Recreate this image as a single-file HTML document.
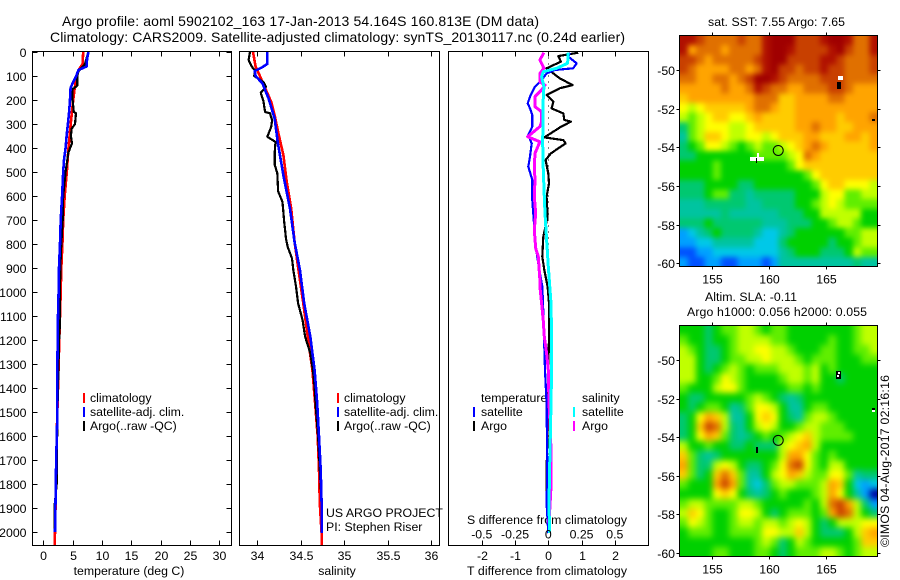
<!DOCTYPE html>
<html lang="en">
<head>
<meta charset="utf-8">
<title>Argo profile 5902102_163</title>
<style>
html,body{margin:0;padding:0;background:#fff;width:900px;height:580px;overflow:hidden}
svg{display:block}
text{font-family:"Liberation Sans","DejaVu Sans",sans-serif;font-size:12.3px;fill:#000}
.title{font-size:14px}
</style>
</head>
<body>
<svg id="figure" xmlns="http://www.w3.org/2000/svg" width="900" height="580" viewBox="0 0 900 580">
<defs>
<filter id="blur-sst" filterUnits="userSpaceOnUse" x="650" y="5" width="250" height="290" color-interpolation-filters="sRGB"><feGaussianBlur stdDeviation="2.6"/></filter>
<filter id="blur-sla" filterUnits="userSpaceOnUse" x="650" y="295" width="250" height="285" color-interpolation-filters="sRGB"><feGaussianBlur stdDeviation="3.2"/></filter>
<clipPath id="clip-sst"><rect x="679.5" y="35.5" width="198" height="231"/></clipPath>
<clipPath id="clip-sla"><rect x="679.5" y="325.5" width="198" height="231"/></clipPath>
</defs>
<text class="title" x="62" y="26" textLength="477">Argo profile: aoml 5902102_163 17-Jan-2013 54.164S 160.813E (DM data)</text>
<text class="title" x="50" y="42" textLength="575">Climatology: CARS2009. Satellite-adjusted climatology: synTS_20130117.nc (0.24d earlier)</text>
<text x="708" y="26" textLength="137">sat. SST: 7.55 Argo: 7.65</text>
<text x="705" y="301" textLength="92">Altim. SLA: -0.11</text>
<text x="687" y="316" textLength="180">Argo h1000: 0.056 h2000: 0.055</text>
<text transform="translate(889,547) rotate(-90)" textLength="172">©IMOS 04-Aug-2017 02:16:16</text>
<text x="129" y="575" text-anchor="middle">temperature (deg C)</text>
<text x="337" y="575" text-anchor="middle">salinity</text>
<text x="547" y="575" text-anchor="middle" textLength="160">T difference from climatology</text>
<text x="547" y="524" text-anchor="middle" textLength="160">S difference from climatology</text>
<text x="326" y="517">US ARGO PROJECT</text>
<text x="326" y="531">PI: Stephen Riser</text>
<g>
<rect x="83" y="393" width="2" height="10" fill="#f00"/>
<text x="90" y="402">climatology</text>
<rect x="83" y="407" width="2" height="10" fill="#00f"/>
<text x="90" y="416">satellite-adj. clim.</text>
<rect x="83" y="421" width="2" height="10" fill="#000"/>
<text x="90" y="430">Argo(..raw -QC)</text>
</g>
<g>
<rect x="337" y="393" width="2" height="10" fill="#f00"/>
<text x="344" y="402">climatology</text>
<rect x="337" y="407" width="2" height="10" fill="#00f"/>
<text x="344" y="416">satellite-adj. clim.</text>
<rect x="337" y="421" width="2" height="10" fill="#000"/>
<text x="344" y="430">Argo(..raw -QC)</text>
</g>
<g>
<text x="481" y="402">temperature</text>
<rect x="473" y="407" width="2" height="10" fill="#00f"/>
<text x="481" y="416">satellite</text>
<rect x="473" y="421" width="2" height="10" fill="#000"/>
<text x="481" y="430">Argo</text>
<text x="582" y="402">salinity</text>
<rect x="573" y="407" width="2" height="10" fill="#0ff"/>
<text x="582" y="416">satellite</text>
<rect x="573" y="421" width="2" height="10" fill="#f0f"/>
<text x="582" y="430">Argo</text>
</g>
</svg>
<script>
// ---- profile data ----
const depthTicks = [0,100,200,300,400,500,600,700,800,900,1000,1100,1200,1300,1400,1500,1600,1700,1800,1900,2000];
const tempTicks = [0,5,10,15,20,25,30];
const salTicks = [34,34.5,35,35.5,36];
const salTickLabels = ['34','34.5','35','35.5','36'];
const tDiffTicks = [-2,-1,0,1,2];
const sDiffTicks = [-0.5,-0.25,0,0.25,0.5];
const sDiffTickLabels = ['-0.5','-0.25','0','0.25','0.5'];

const tempClimDepth = [0,50,75,100,150,200,300,400,500,600,700,800,900,1000,1200,1400,1600,1800,2000,2054];
const tempClim = [6.8,6.7,6.0,5.7,5.35,5.1,4.67,4.3,4.0,3.65,3.4,3.25,3.07,2.96,2.73,2.5,2.28,2.17,2.0,1.95];
const tempArgoDepth = [0,50,80,100,140,155,200,250,255,300,320,350,380,420,500,600,700,800,900,1000,1150,1200,1500,1800,1900,2000];
const tempArgo = [7.67,7.1,6.0,5.8,5.8,5.0,5.0,5.2,5.57,5.4,4.83,4.7,4.9,4.26,3.8,3.4,3.3,3.07,2.9,2.85,2.8,2.7,2.4,2.28,1.9,1.95];
const tempSatDepth = [0,30,60,75,100,130,150,200,250,300,350,400,450,500,600,700,800,900,1000,1100,1300,1500,1700,2000];
const tempSat = [7.7,7.45,7.4,6.0,5.6,5.0,4.66,4.55,4.4,4.2,3.97,3.8,3.53,3.4,3.2,2.96,2.85,2.67,2.6,2.5,2.4,2.4,2.2,2.0];

const salClimDepth = [0,61,100,167,208,264,333,430,542,653,792,950,1047,1186,1325,1463,1602,1741,1880,2005,2054];
const salClim = [33.95,33.98,34.03,34.11,34.16,34.2,34.24,34.3,34.34,34.39,34.43,34.49,34.53,34.58,34.635,34.665,34.695,34.71,34.72,34.74,34.74];
const salArgoDepth = [0,33,61,75,100,125,145,170,205,250,255,285,312,353,375,420,470,505,580,625,708,778,812,860,908,977,1047,1116,1186,1255,1325,1394,1463,1602,1741,1880,1936];
const salArgo = [33.916,33.9,33.935,33.97,33.965,34.07,34.1,34.04,34.07,34.09,34.146,34.17,34.16,34.115,34.21,34.2,34.2,34.23,34.24,34.29,34.31,34.33,34.35,34.4,34.415,34.446,34.47,34.52,34.55,34.61,34.64,34.66,34.67,34.7,34.72,34.74,34.74];
const salSatDepth = [0,50,65,79,100,131,194,278,375,514,653,792,908,1047,1186,1325,1463,1602,1741,1880,2005];
const salSat = [34.115,34.115,34.05,33.97,33.98,34.06,34.13,34.2,34.235,34.3,34.376,34.43,34.49,34.54,34.61,34.66,34.69,34.71,34.73,34.74,34.74];

const tDiffArgoDepth = [3,17,40,68,89,110,138,151,179,207,235,256,283,290,314,332,356,367,381,422,450,506,547,603,686,770,853,908,977,1047,1186,1325,1464,1741,1880,2005];
const tDiffArgo = [0.9,0.3,0.38,-0.05,0.15,0.35,0.73,0.35,-0.05,0.15,0.1,0.45,0.48,0.68,0.35,0.15,-0.12,0.45,0.52,0.08,-0.08,0,0.02,-0.05,-0.02,-0.15,-0.18,-0.12,-0.02,0.02,0.02,0,0,-0.05,-0.05,0];
const tDiffSatDepth = [3,19,47,68,75,89,117,144,186,214,235,263,311,346,381,436,478,533,617,714,811,908,977,1047,1186,1325,1464,1741,1880,2005];
const tDiffSat = [0.65,0.6,0.85,0.75,0.2,-0.05,-0.2,-0.4,-0.55,-0.62,-0.55,-0.48,-0.48,-0.6,-0.5,-0.55,-0.6,-0.48,-0.48,-0.43,-0.38,-0.27,-0.18,-0.16,-0.13,-0.1,-0.05,-0.03,-0.05,0];
const sDiffArgoDepth = [3,33,68,89,124,138,158,186,228,249,290,311,353,374,422,478,533,603,672,742,818,853,950,977,1047,1116,1186,1255,1325,1464,1547,1658,1811,1964];
const sDiffArgo = [-0.033,-0.063,-0.033,-0.063,-0.063,-0.025,-0.05,-0.1,-0.1,-0.05,-0.05,-0.063,-0.155,-0.063,-0.1,-0.105,-0.1,-0.105,-0.095,-0.105,-0.095,-0.075,-0.063,-0.063,-0.05,-0.038,-0.03,-0.013,0,0.005,0.013,0.02,0.02,0.005];
const sDiffSatDepth = [3,47,68,82,103,144,200,297,367,478,561,672,783,894,1047,1186,1325,1464,1603,1741,1880,2005];
const sDiffSat = [0.15,0.145,0.063,-0.038,-0.05,-0.033,-0.038,-0.038,-0.043,-0.038,-0.033,-0.025,-0.013,0,0.02,0.025,0.025,0.02,0.015,0.01,0.005,0.01];

// ---- map data (colour level per cell, north to south) ----
const lonTicks = [155,160,165];
const latTicks = [50,52,54,56,58,60];
const sstLevels = [
[14,14,13,12,12,12,12,13,12,12,14,15,15,15,13,13,13,14,15,15,14,12,12,14],
[14,11,12,12,12,11,12,12,12,12,14,15,15,14,13,13,13,13,14,15,13,12,12,14],
[13,13,12,11,12,12,12,12,12,13,14,15,15,13,13,13,13,14,14,13,12,12,12,13],
[13,12,11,11,11,11,12,12,11,12,14,15,13,13,12,13,13,14,13,13,12,12,12,13],
[12,12,11,11,12,12,11,12,13,15,15,14,13,12,12,12,12,13,13,13,12,12,12,12],
[11,11,11,11,11,12,11,11,12,14,13,12,12,11,11,12,12,12,13,13,12,11,11,11],
[10,11,11,11,11,11,11,11,11,12,12,12,10,10,11,11,11,11,12,12,11,11,11,11],
[9,8,9,10,10,10,10,10,11,12,12,11,10,10,11,11,11,11,11,11,11,11,11,11],
[8,7,8,9,10,10,9,9,10,11,10,10,10,10,11,11,11,11,11,10,11,11,11,12],
[5,7,8,9,9,9,8,8,9,10,10,10,10,10,11,11,12,11,11,10,10,11,11,11],
[4,7,8,10,10,9,8,8,9,9,8,9,10,10,10,11,11,10,10,10,11,11,10,11],
[5,6,7,9,9,8,7,6,7,8,7,7,8,9,10,11,12,11,10,10,10,10,10,11],
[5,5,6,6,6,6,6,6,6,7,7,7,7,8,9,12,11,10,10,10,10,10,10,10],
[6,6,6,6,7,6,6,6,6,6,6,6,6,7,9,10,10,10,10,10,10,10,10,10],
[6,6,6,6,7,6,6,6,6,6,6,6,6,6,6,7,9,10,10,10,10,10,10,10],
[5,5,5,6,6,6,6,5,5,6,6,6,6,6,6,6,7,9,10,10,9,9,9,8],
[5,5,5,6,7,7,5,5,4,5,5,5,5,5,6,6,6,8,9,9,7,7,8,8],
[4,4,4,5,5,5,5,5,4,4,5,5,5,5,6,6,7,8,9,8,7,7,7,7],
[4,4,4,4,4,5,4,4,4,4,4,4,5,5,5,6,6,8,8,8,8,8,6,6],
[5,5,5,6,5,5,5,5,5,5,4,4,4,5,5,5,6,6,7,8,8,7,6,6],
[2,3,4,5,6,5,5,5,5,4,3,3,4,5,6,6,6,6,6,6,7,7,8,8],
[2,2,3,3,4,4,4,4,4,3,3,3,5,6,6,6,6,6,5,6,6,7,8,8],
[1,1,2,2,3,3,3,3,3,3,3,3,4,5,6,6,6,5,5,5,6,8,7,7],
[2,1,1,2,2,1,1,2,2,2,1,2,4,4,4,4,4,4,4,4,4,5,4,4]
];
const slaLevels = [
[6,6,6,5,6,7,7,8,8,7,6,7,7,6,6,6,6,6,6,6,6,7,8,8],
[7,6,6,5,6,6,7,8,8,8,8,7,7,6,6,6,6,6,7,6,6,7,8,8],
[8,7,6,5,5,6,7,8,8,9,9,8,8,7,6,6,6,7,7,6,6,7,7,8],
[8,8,6,5,5,6,7,7,8,8,9,8,8,8,7,6,7,7,7,6,6,6,7,7],
[8,8,6,5,6,7,8,7,6,7,7,7,8,8,8,7,8,6,7,6,6,6,6,6],
[8,8,6,6,7,9,8,7,6,6,6,6,7,8,8,7,8,6,6,5,6,6,6,6],
[7,6,6,6,8,9,9,7,6,6,6,6,6,7,7,6,7,6,6,6,6,6,6,6],
[6,5,5,6,6,6,6,6,7,8,7,6,5,4,5,6,6,6,6,6,6,6,6,6],
[6,5,6,7,7,6,4,5,7,9,9,8,6,4,4,6,7,7,6,6,6,6,6,6],
[5,6,9,11,10,8,4,4,6,9,10,9,6,5,4,7,8,8,7,6,6,6,6,6],
[5,6,10,13,12,8,5,4,6,8,9,8,6,6,7,8,8,7,7,7,6,6,6,6],
[5,6,9,11,10,7,5,4,5,6,7,6,7,8,9,10,8,7,7,7,7,6,6,6],
[8,6,6,7,6,6,5,5,6,5,5,5,8,9,10,11,8,6,6,6,6,6,6,6],
[10,7,5,4,5,6,6,6,6,6,6,6,8,11,11,9,7,6,7,6,6,6,6,6],
[11,7,5,5,8,9,8,6,5,5,6,7,9,12,13,9,7,6,8,8,6,6,6,6],
[10,7,5,6,10,12,10,7,4,4,6,8,9,11,10,8,7,7,9,9,7,4,5,5],
[7,6,6,6,11,13,11,7,4,3,5,7,8,8,7,7,7,8,11,10,6,3,2,3],
[6,6,6,6,9,10,9,6,5,4,5,6,7,6,6,6,7,8,11,9,6,4,2,0],
[7,8,8,7,7,7,7,8,8,7,6,6,6,6,6,7,6,8,12,13,11,8,5,2],
[8,10,9,7,6,6,7,9,9,8,6,5,6,7,7,7,6,7,11,13,12,8,6,5],
[7,9,8,7,6,6,7,8,8,7,8,8,7,8,9,8,6,5,6,8,8,8,9,9],
[6,7,7,7,6,6,7,7,7,7,9,9,8,8,10,8,6,5,5,5,6,8,10,11],
[6,6,6,6,6,6,6,6,6,7,8,7,5,6,8,7,6,6,6,6,6,7,10,10],
[6,6,6,6,7,7,6,6,6,7,7,6,5,6,7,7,7,8,8,7,6,7,8,8]
];
const floatLon = [160.813];
const floatLat = [54.164];

const palette = ['#0000a0','#0050ff','#00a0ff','#00c8e8','#00c4a0','#00c870','#00d000','#60ee00','#c0ff00','#ffff00','#ffcc00','#ffa400','#e07000','#c84000','#b01000','#a00000'];
const NS = 'http://www.w3.org/2000/svg';
const fig = document.getElementById('figure');

function mk(tag, parent) {
  const el = document.createElementNS(NS, tag);
  (parent || fig).appendChild(el);
  return el;
}
function setAll(el, props) {
  for (const k in props) el.setAttribute(k, props[k]);
}
function linear(d0, p0, d1, p1) {
  return v => p0 + (v - d0) * (p1 - p0) / (d1 - d0);
}
const yDepth = linear(0, 52, 2000, 532);
const xTemp = linear(0, 43.3, 30, 219.3);
const xSal = linear(34, 257.3, 36, 431);
const xTD = linear(0, 548.3, 2, 614.8);
const xSD = linear(0, 548.3, 0.5, 614.8);
const lonX = linear(155, 712.3, 165, 825.7);
const sstY = linear(50, 70, 60, 263.3);
const slaY = linear(50, 360, 60, 553);

function drawPanel(name) {
  const g = mk('g');
  
  
  return g;
}
function drawFrame(g, name, x0, y0, x1, y1) {
  const r = mk('rect', g);
  
  
  setAll(r, {x: x0, y: y0, width: x1 - x0, height: y1 - y0, fill: 'none', stroke: '#000', 'stroke-width': 1, 'shape-rendering': 'crispEdges'});
}
function drawTick(g, x1, y1, x2, y2) {
  const t = mk('line', g);
  
  
  setAll(t, {x1, y1, x2, y2, stroke: '#000', 'stroke-width': 1, 'shape-rendering': 'crispEdges'});
}
function drawLabel(g, txt, x, y, anchor, name) {
  const t = mk('text', g);
  
  
  setAll(t, {x, y, 'text-anchor': anchor});
  t.textContent = txt;
}
function drawLine(g, name, depths, vals, xFn, color, w) {
  const p = mk('polyline', g);
  
  
  const pts = depths.map((d, i) => xFn(vals[i]).toFixed(1) + ',' + yDepth(d).toFixed(1)).join(' ');
  setAll(p, {points: pts, fill: 'none', stroke: color, 'stroke-width': w, 'shape-rendering': 'crispEdges', 'stroke-linejoin': 'round'});
}
const TOP = 51.5, BOT = 545.5;

// temperature panel
const gT = drawPanel('temperature');
drawLine(gT, 'temperature-climatology-line', tempClimDepth, tempClim, xTemp, '#f00', 2.6);
drawLine(gT, 'temperature-argo-line', tempArgoDepth, tempArgo, xTemp, '#000', 2.2);
drawLine(gT, 'temperature-satellite-line', tempSatDepth, tempSat, xTemp, '#00f', 2.6);
drawFrame(gT, 'temperature', 32.5, TOP, 231.5, BOT);
depthTicks.forEach(d => {
  const y = Math.round(yDepth(d)) + 0.5;
  drawTick(gT, 32.5, y, 37.5, y);
  drawTick(gT, 226.5, y, 231.5, y);
  drawLabel(gT, String(d), 26.5, y + 4.5, 'end', 'depth-tick-label');
});
tempTicks.forEach(v => {
  const x = Math.round(xTemp(v)) + 0.5;
  drawTick(gT, x, TOP, x, TOP + 5);
  drawTick(gT, x, BOT - 5, x, BOT);
  drawLabel(gT, String(v), x, 560, 'middle', 'temperature-tick-label');
});

// salinity panel
const gS = drawPanel('salinity');
drawLine(gS, 'salinity-climatology-line', salClimDepth, salClim, xSal, '#f00', 2.6);
drawLine(gS, 'salinity-argo-line', salArgoDepth, salArgo, xSal, '#000', 2.2);
drawLine(gS, 'salinity-satellite-line', salSatDepth, salSat, xSal, '#00f', 2.6);
drawFrame(gS, 'salinity', 239.5, TOP, 439.5, BOT);
salTicks.forEach((v, i) => {
  const x = Math.round(xSal(v)) + 0.5;
  drawTick(gS, x, TOP, x, TOP + 5);
  drawTick(gS, x, BOT - 5, x, BOT);
  drawLabel(gS, salTickLabels[i], x, 560, 'middle', 'salinity-tick-label');
});

// difference panel
const gD = drawPanel('difference');
const zero = mk('line', gD);


setAll(zero, {x1: xTD(0), y1: TOP, x2: xTD(0), y2: BOT, stroke: '#000', 'stroke-width': 1, 'stroke-dasharray': '1 5', 'shape-rendering': 'crispEdges'});
drawLine(gD, 't-difference-argo-line', tDiffArgoDepth, tDiffArgo, xTD, '#000', 2.2);
drawLine(gD, 't-difference-satellite-line', tDiffSatDepth, tDiffSat, xTD, '#00f', 2.2);
drawLine(gD, 's-difference-argo-line', sDiffArgoDepth, sDiffArgo, xSD, '#f0f', 3);
drawLine(gD, 's-difference-satellite-line', sDiffSatDepth, sDiffSat, xSD, '#0ff', 3);
drawFrame(gD, 'difference', 448.5, TOP, 648.5, BOT);
tDiffTicks.forEach(v => {
  const x = Math.round(xTD(v)) + 0.5;
  drawTick(gD, x, TOP, x, TOP + 5);
  drawTick(gD, x, BOT - 5, x, BOT);
  drawLabel(gD, String(v), x, 560, 'middle', 't-difference-tick-label');
});
sDiffTicks.forEach((v, i) => {
  drawLabel(gD, sDiffTickLabels[i], xSD(v), 538.5, 'middle', 's-difference-tick-label');
});

// maps
const MAP_LEFT = 679.5, MAP_RIGHT = 877.5, BLEED = 14;
function drawMap(name, levels, yFn, top, bottom) {
  const g = mk('g');
  
  
  const clip = mk('g', g);
  
  
  clip.setAttribute('clip-path', 'url(#clip-' + name + ')');
  const img = mk('g', clip);
  
  
  img.setAttribute('filter', 'url(#blur-' + name + ')');
  const nr = levels.length, nc = levels[0].length;
  const cw = (MAP_RIGHT - MAP_LEFT) / nc;
  const ch = (bottom - top) / nr;
  levels.forEach((row, r) => row.forEach((lv, c) => {
    const cell = mk('rect', img);
    
    
    const xa = MAP_LEFT + c * cw - (c === 0 ? BLEED : 0);
    const xb = MAP_LEFT + (c + 1) * cw + (c === nc - 1 ? BLEED : 0.5);
    const ya = top + r * ch - (r === 0 ? BLEED : 0);
    const yb = top + (r + 1) * ch + (r === nr - 1 ? BLEED : 0.5);
    setAll(cell, {x: xa.toFixed(2), y: ya.toFixed(2), width: (xb - xa).toFixed(2), height: (yb - ya).toFixed(2), fill: palette[lv], 'shape-rendering': 'crispEdges'});
  }));
  drawFrame(g, name + '-map', MAP_LEFT, top, MAP_RIGHT, bottom);
  lonTicks.forEach(v => {
    const x = Math.round(lonX(v)) + 0.5;
    drawTick(g, x, top - 3, x, top);
    drawTick(g, x, bottom, x, bottom + 3);
    drawLabel(g, String(v), x, bottom + 17, 'middle', 'longitude-tick-label');
  });
  latTicks.forEach(v => {
    const y = Math.round(yFn(v)) + 0.5;
    drawTick(g, MAP_LEFT - 3, y, MAP_LEFT, y);
    drawTick(g, MAP_RIGHT, y, MAP_RIGHT + 3, y);
    drawLabel(g, '-' + v, 675, y + 4.5, 'end', 'latitude-tick-label');
  });
  const marker = mk('circle', g);
  
  
  setAll(marker, {cx: lonX(floatLon[0]), cy: yFn(floatLat[0]), r: 5, fill: 'none', stroke: '#000', 'stroke-width': 1});
  return g;
}
const gM1 = drawMap('sst', sstLevels, sstY, 35.5, 266.5);
const gM2 = drawMap('sla', slaLevels, slaY, 325.5, 556.5);

function blob(g, name, x, y, w, h, color) {
  const r = mk('rect', g);
  
  
  setAll(r, {x, y, width: w, height: h, fill: color, 'shape-rendering': 'crispEdges'});
}
blob(gM1, 'missing-data-patch', 750, 157, 14, 4, '#fff');
blob(gM1, 'missing-data-patch', 757, 153, 2, 4, '#fff');
blob(gM1, 'island-mark', 756, 158, 1, 5, '#000');
blob(gM1, 'missing-data-patch', 838, 76, 5, 4, '#fff');
blob(gM1, 'island-mark', 837, 82, 4, 7, '#000');
blob(gM1, 'island-mark', 872, 119, 3, 2, '#000');
blob(gM2, 'island-mark', 756, 447, 2, 6, '#000');
blob(gM2, 'island-mark', 836, 371, 5, 8, '#000');
blob(gM2, 'island-detail', 838, 372, 2, 2, '#fff');
blob(gM2, 'island-detail', 837, 375, 2, 2, '#fff');
blob(gM2, 'island-mark', 872, 408, 3, 2, '#000');
blob(gM2, 'island-detail', 872, 410, 3, 2, '#fff');
</script>
</body>
</html>
